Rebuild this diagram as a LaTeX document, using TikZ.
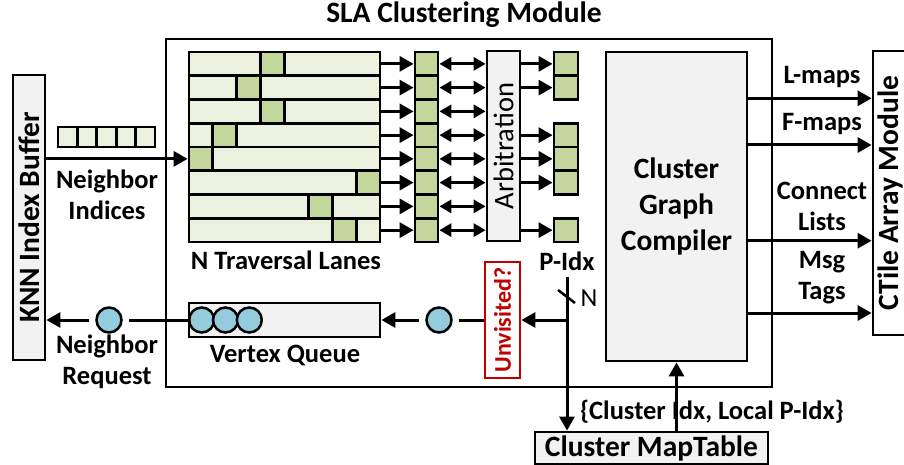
\documentclass[tikz,border=0pt]{standalone}
\usepackage{fontspec}
\setmainfont{Carlito}
\usepackage{graphicx}
\usetikzlibrary{arrows.meta}
\definecolor{laneLight}{HTML}{EBF1DE}
\definecolor{laneDark}{HTML}{C3D69B}
\definecolor{boxGray}{HTML}{F2F2F2}
\definecolor{dotBlue}{HTML}{93CDDD}
\definecolor{warnRed}{HTML}{C00000}
\newcommand{\hdrfont}{\bfseries\fontsize{29.5}{36}\selectfont}
\newcommand{\lblfont}{\bfseries\fontsize{26.5}{31}\selectfont}
\begin{document}
\begin{tikzpicture}[x=1pt,y=-1pt,
  box/.style={draw, line width=2.8pt, inner sep=0pt},
  graybox/.style={box, fill=boxGray},
  lanebox/.style={box, fill=laneLight, minimum width=191pt, minimum height=23.75pt},
  cell/.style={box, fill=laneDark, minimum width=23pt, minimum height=23.75pt},
  smallcell/.style={box, fill=laneLight, minimum width=19.4pt, minimum height=20pt},
  dot/.style={circle, draw, line width=2.5pt, fill=dotBlue, minimum size=25pt, inner sep=0pt},
  wire/.style={line width=3pt},
  conn/.style={wire, -{Triangle[length=14pt, width=15pt]}},
  dconn/.style={wire, {Triangle[length=12pt, width=13pt]}-{Triangle[length=12pt, width=13pt]}},
  hdr/.style={font=\hdrfont, inner sep=0pt},
  lbl/.style={font=\lblfont, inner sep=0pt, align=center},
]
\fill[white] (0,0) rectangle (904,465);
\useasboundingbox (0,0) rectangle (904,465);

% module frame and title
\node[draw, line width=2pt, minimum width=606pt, minimum height=348pt, inner sep=0pt] (sla) at (469,213) {};
\node[hdr] (title) at (464,15) {SLA Clustering Module};

% KNN index buffer
\node[graybox, minimum width=32pt, minimum height=285pt, font=\hdrfont] (knn) at (29,217.5) {\rotatebox{90}{KNN Index Buffer}};

% traversal lanes, each with its active cell
\foreach \i/\k in {0/3,1/2,2/3,3/1,4/0,5/7,6/5,7/6} {
  \node[lanebox] (lane\i) at (284.5,{52+23.75*(\i+0.5)}) {};
  \node[cell, minimum width=23.875pt] (hot\i) at ({189+23.875*(\k+0.5)},{52+23.75*(\i+0.5)}) {};
  \node[cell] (q\i) at (426.5,{52+23.75*(\i+0.5)}) {};
  \draw[conn] (lane\i.east) -- (q\i.west);
}
\node[lbl] (lanes) at (286,260) {N Traversal Lanes};

% arbitration
\node[graybox, minimum width=33pt, minimum height=190pt, font=\fontsize{28.5}{28.5}\selectfont] (arb) at (503.5,146) {\rotatebox{90}{Arbitration}};
\foreach \i in {0,...,7} {
  \draw[dconn] (q\i.east) -- (q\i.east -| arb.west);
}
\foreach \i in {0,1,3,4,5,7} {
  \node[cell, minimum width=24pt] (o\i) at (566,{52+23.75*(\i+0.5)}) {};
  \draw[conn] (o\i.west -| arb.east) -- (o\i.west);
}
\node[lbl] (pidx) at (567,261) {P-Idx};

% neighbor indices input
\foreach \j in {0,...,4} {
  \node[smallcell] (ni\j) at ({58+19.4*(\j+0.5)},137) {};
}
\draw[conn] (knn.east |- lane4.west) -- (lane4.west);
\node[lbl] (nilbl) at (107,195) {Neighbor\\Indices};

% vertex queue path
\node[graybox, minimum width=191pt, minimum height=34pt] (vq) at (284.5,320) {};
\node[dot] (vq1) at (201.7,320) {};
\node[dot] (vq2) at (225.5,320) {};
\node[dot] (vq3) at (249.3,320) {};
\node[lbl] (vqlbl) at (285,355) {Vertex Queue};

\node[box, draw=warnRed, fill=white, minimum width=35pt, minimum height=116pt,
      font=\bfseries\fontsize{24}{24}\selectfont, text=warnRed] (unv) at (502.5,320) {\rotatebox{90}{Unvisited?}};
\node[dot] (d1) at (439,320) {};
\node[dot] (d2) at (109,320) {};
\draw[wire, shorten >=6pt] (unv.west) -- (d1.east);
\draw[conn, shorten <=6pt] (d1.west) -- (vq.east);
\draw[wire, shorten >=6pt] (vq.west) -- (d2.east);
\draw[conn, shorten <=6pt] (d2.west) -- (knn.east |- d2.west);
\node[lbl] (nrlbl) at (107,362) {Neighbor\\Request};

% cluster map table and P-Idx bus
\node[graybox, minimum width=233pt, minimum height=32pt, font=\hdrfont] (map) at (651.5,448) {Cluster MapTable};
\coordinate (ptop) at (567,277);
\coordinate (pbr) at (567,320);
\draw[conn] (ptop) -- (ptop |- map.north);
\draw[conn] (pbr) -- (unv.east);
\draw[line width=2.5pt] (558,290) -- (575,303);
\node[font=\fontsize{26}{26}\selectfont, inner sep=0pt] (nbus) at (589,298) {N};

% cluster graph compiler
\node[graybox, minimum width=141pt, minimum height=309pt, align=center, font=\hdrfont] (cgc) at (676.5,206.5) {Cluster\\Graph\\Compiler};
\draw[conn] (map.north -| cgc.south) -- (cgc.south);
\node[lbl] (cilbl) at (712,412) {\{Cluster Idx, Local P-Idx\}};

% CTile array module and its inputs
\node[box, fill=white, minimum width=34pt, minimum height=284pt, font=\hdrfont] (ctile) at (890,193) {\rotatebox{90}{CTile Array Module}};
\foreach \y/\n in {98.3/a,145/b,240.7/c,313/d} {
  \coordinate (out\n) at (747,\y);
  \draw[conn] (out\n) -- (ctile.west |- out\n);
}
\node[lbl] (lmaps) at (822,77) {L-maps};
\node[lbl] (fmaps) at (822,124) {F-maps};
\node[lbl] (clists) at (822,206) {Connect\\Lists};
\node[lbl] (mtags) at (822,278) {Msg\\Tags};
\end{tikzpicture}
\end{document}
